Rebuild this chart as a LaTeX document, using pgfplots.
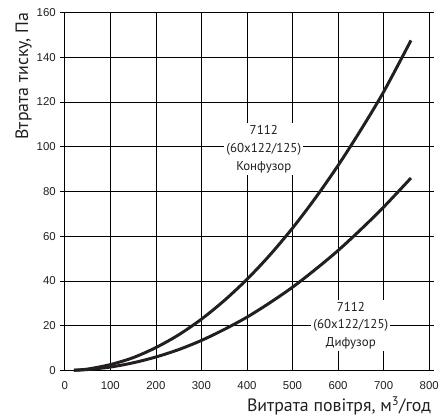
\documentclass[border=0pt]{standalone}
\usepackage{fontspec}
\setmainfont{PT Sans}
\newfontfamily\arialfont{Liberation Sans}
\usepackage{pgfplots}
\pgfplotsset{compat=1.18}
\definecolor{ink}{HTML}{231F20}
\begin{document}
\begin{tikzpicture}
\begin{axis}[
  scale only axis,
  width=366bp, height=359.5bp,
  xmin=0, xmax=800, ymin=0, ymax=160,
  xtick={0,100,...,800}, ytick={0,20,...,160},
  grid=major,
  grid style={black, line width=0.6pt},
  axis line style={black, line width=0.8pt},
  tick align=outside,
  major tick length=4.5bp,
  xtick style={draw=none},
  ytick style={black, line width=0.8pt},
  /pgf/number format/assume math mode=true,
  tick label style={font=\arialfont\fontsize{11.5}{13}\selectfont, text=ink},
  xticklabel style={yshift=-3bp},
  yticklabel style={xshift=-1bp},
  xlabel={Витрата повітря, м\textsuperscript{3}/год},
  ylabel={Втрата тиску, Па},
  label style={font=\fontsize{18}{20}\selectfont, text=ink},
  xlabel style={at={(rel axis cs:1,0)}, anchor=north east, yshift=-26bp, inner sep=0pt, xshift=2bp},
  ylabel style={at={(rel axis cs:0,1)}, anchor=south east, yshift=33bp, inner sep=0pt, xshift=0bp},
  clip=false,
]
\addplot[ink, line width=3pt, smooth] coordinates {
 (20,0.1) (50,0.6) (100,2.6) (150,5.7) (200,10.2) (250,15.9) (300,22.9) (350,31.2)
 (400,40.7) (450,51.5) (500,63.6) (550,77.0) (600,91.6) (650,107.5) (700,124.5) (760,147.5)};
\addplot[ink, line width=3pt, smooth] coordinates {
 (20,0.06) (50,0.4) (100,1.5) (150,3.4) (200,6.0) (250,9.3) (300,13.4) (350,18.3)
 (400,23.8) (450,30.2) (500,37.2) (550,45.1) (600,53.6) (650,63.0) (700,73.0) (760,86.0)};
\node[fill=white, align=center, inner sep=2bp, font=\fontsize{13}{18}\selectfont, text=ink] at (axis cs:437,99) {7112\\(60x122/125)\\Конфузор};
\node[fill=white, align=center, inner sep=2bp, font=\fontsize{13}{18}\selectfont, text=ink] at (axis cs:628,20) {7112\\(60x122/125)\\Дифузор};
\end{axis}
\path (current axis.south west) ++(-65bp,-47bp);
\path (current axis.north east) ++(11bp,12.5bp);
\end{tikzpicture}
\end{document}
